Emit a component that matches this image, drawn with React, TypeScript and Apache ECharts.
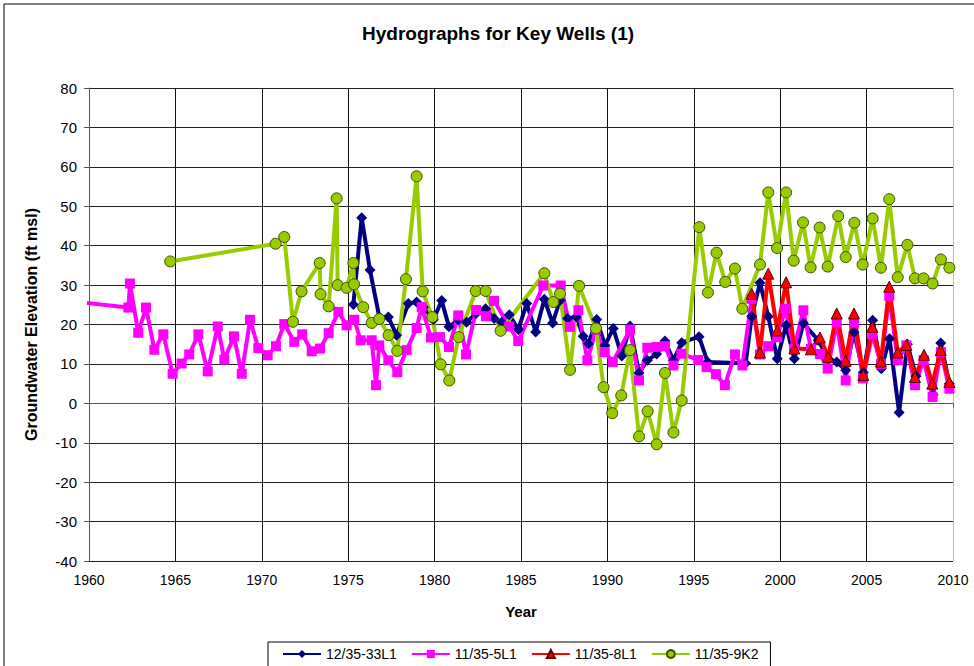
import React, { useEffect, useRef } from "react";
import * as echarts from "echarts";

const seriesNames = ["12/35-33L1", "11/35-5L1", "11/35-8L1", "11/35-9K2"];
const yTicks = { min: -40, max: 80, interval: 10 };
const xTicks = { min: 1960, max: 2010, interval: 5 };

const well33L1: [number, number][] = [
  [1975.3, 25.1], [1975.78, 47.1], [1976.26, 33.8], [1976.8, 21.9], [1977.32, 21.9], [1977.8, 17.3],
  [1978.48, 25.3], [1978.96, 25.7], [1979.35, 24.4], [1979.93, 21.2], [1980.41, 26.1], [1980.83, 19.4],
  [1981.37, 21.2], [1981.85, 20.6], [1982.4, 22.8], [1982.95, 24], [1983.44, 21.5], [1983.88, 20.6],
  [1984.32, 22.5], [1984.84, 18.7], [1985.33, 25.3], [1985.85, 18.1], [1986.35, 26.4], [1986.83, 20.4],
  [1987.26, 26.1], [1987.7, 21.5], [1988.2, 21.9], [1988.6, 17], [1988.9, 15.1], [1989.38, 21.3],
  [1989.86, 14.7], [1990.34, 19], [1990.83, 12], [1991.31, 19.6], [1991.83, 7.7], [1992.31, 10.9],
  [1992.85, 12.5], [1993.33, 15.8], [1993.82, 10.9], [1994.3, 15.4], [1995.3, 16.9], [1995.8, 10.5],
  [1998.0, 10.2], [1998.35, 22], [1998.83, 30.6], [1999.31, 22], [1999.83, 11.3], [2000.34, 19.8],
  [2000.82, 11.3], [2001.34, 20.3], [2002.2, 16], [2002.78, 11.3], [2003.27, 10.5], [2003.79, 8.4],
  [2004.27, 18], [2004.81, 7.8], [2005.35, 21.1], [2005.85, 8.8], [2006.33, 16.4], [2006.88, -2.3],
  [2007.36, 15], [2007.86, 6.9], [2008.32, 11.6], [2008.85, 2.2], [2009.29, 15.3], [2009.79, 5],
];

const well5L1: [number, number][] = [
  [1959.6, 25.6], [1962.28, 24.3], [1962.37, 30.4], [1962.85, 17.9], [1963.3, 24.3], [1963.78, 13.6],
  [1964.3, 17.5], [1964.84, 7.5], [1965.36, 10.1], [1965.8, 12.4], [1966.33, 17.5], [1966.87, 8.1],
  [1967.45, 19.5], [1967.83, 11.1], [1968.39, 17], [1968.84, 7.5], [1969.32, 21.2], [1969.8, 14],
  [1970.34, 12.2], [1970.82, 14.5], [1971.3, 20.1], [1971.88, 15.6], [1972.34, 17.5], [1972.89, 13.2],
  [1973.37, 13.9], [1973.87, 17.8], [1974.43, 23.2], [1974.91, 19.8], [1975.35, 21.2], [1975.72, 16],
  [1976.36, 16], [1976.61, 4.6], [1976.8, 14.7], [1977.32, 10.9], [1977.84, 7.9], [1978.38, 13.5],
  [1978.96, 19.1], [1979.25, 24.4], [1979.79, 16.7], [1980.31, 16.8], [1980.83, 14.3], [1981.37, 22.3],
  [1981.82, 12.4], [1982.4, 23.7], [1982.97, 22.1], [1983.44, 26], [1984.32, 19.5], [1984.84, 15.8],
  [1986.29, 29.9], [1987.3, 29.9], [1987.83, 19.4], [1988.32, 23.6], [1988.84, 10.9], [1989.34, 18.7],
  [1989.84, 13], [1990.31, 10.5], [1991.31, 18.7], [1991.83, 5.8], [1992.31, 14.1], [1992.85, 14.3],
  [1993.33, 14.5], [1993.82, 9.6], [1994.28, 12.6], [1995.26, 11], [1995.74, 9.2], [1996.28, 7.4],
  [1996.8, 4.6], [1997.38, 12.4], [1997.81, 9.6], [1998.35, 26.5], [1998.83, 12.4], [1999.31, 14.5],
  [1999.83, 16.8], [2000.3, 24], [2000.8, 13.8], [2001.34, 23.6], [2001.78, 13.8], [2002.3, 12.5],
  [2002.75, 8.8], [2003.27, 20.5], [2003.79, 5.8], [2004.27, 20.5], [2004.79, 6.3], [2005.33, 17.5],
  [2005.83, 10], [2006.31, 27.3], [2006.8, 10.9], [2007.3, 14.7], [2007.8, 4.6], [2008.3, 11],
  [2008.82, 1.6], [2009.3, 13], [2009.79, 3.7],
];

const well8L1: [number, number][] = [
  [1998.35, 27.8], [1998.83, 12.9], [1999.31, 32.9], [1999.83, 18.5], [2000.34, 30.7], [2000.82, 13.9],
  [2001.78, 13.7], [2002.3, 16.7], [2002.78, 11.8], [2003.27, 22.8], [2003.79, 10.8], [2004.27, 22.8],
  [2004.81, 7.2], [2005.33, 19.4], [2005.83, 10.6], [2006.31, 29.6], [2006.8, 12.9], [2007.3, 14.8],
  [2007.8, 6.7], [2008.32, 12.3], [2008.8, 5], [2009.29, 13.5], [2009.79, 5.4],
];

const well9K2: [number, number][] = [
  [1964.7, 36], [1970.8, 40.5], [1971.3, 42.2], [1971.8, 20.7], [1972.3, 28.4], [1973.35, 35.6],
  [1973.4, 27.7], [1973.87, 24.6], [1974.33, 52], [1974.39, 30], [1974.91, 29.3], [1975.3, 35.6],
  [1975.34, 30.2], [1975.87, 24.4], [1976.36, 20.4], [1976.8, 21.4], [1977.34, 17.3], [1977.84, 13.3],
  [1978.34, 31.5], [1978.96, 57.6], [1979.31, 28.4], [1979.87, 21.9], [1980.35, 9.9], [1980.85, 5.8],
  [1981.39, 16.8], [1982.38, 28.5], [1982.95, 28.5], [1983.82, 18.4], [1986.35, 33], [1986.87, 25.7],
  [1987.26, 27.8], [1987.84, 8.5], [1988.36, 29.8], [1989.34, 19], [1989.78, 4.1], [1990.28, -2.5],
  [1990.8, 2.0], [1991.31, 13.5], [1991.83, -8.4], [1992.33, -2.0], [1992.85, -10.4], [1993.33, 7.7],
  [1993.82, -7.4], [1994.3, 0.7], [1995.32, 44.7], [1995.82, 28.1], [1996.32, 38.2], [1996.82, 30.8],
  [1997.38, 34.2], [1997.81, 24], [1998.83, 35.2], [1999.31, 53.5], [1999.82, 39.4], [2000.34, 53.5],
  [2000.78, 36.2], [2001.32, 45.9], [2001.76, 34.5], [2002.28, 44.6], [2002.75, 34.7], [2003.36, 47.5],
  [2003.79, 37.1], [2004.29, 45.8], [2004.77, 35.2], [2005.35, 46.9], [2005.83, 34.4], [2006.31, 51.8],
  [2006.8, 32], [2007.36, 40.2], [2007.8, 31.7], [2008.3, 31.7], [2008.82, 30.4], [2009.3, 36.5],
  [2009.79, 34.4],
];

const FONT = "'Liberation Sans', Arial, sans-serif";

export default function App() {
  const ref = useRef<HTMLDivElement>(null);
  useEffect(() => {
    document.body.style.margin = "0";
    const chart = echarts.init(ref.current!, null, { renderer: "svg" });
    const xSplitColors = Array.from({ length: 11 }, (_, i) => (i === 10 ? "#bdbdbd" : "#111"));
    chart.setOption({
      animation: false,
      backgroundColor: "#fff",
      textStyle: { fontFamily: FONT },
      grid: { left: 89, right: 21, top: 88, bottom: 105, containLabel: false },
      graphic: [
        {
          type: "rect",
          shape: { x: 4, y: 4, width: 990, height: 700 },
          style: { fill: "none", stroke: "#000", lineWidth: 1 },
          silent: true,
        },
        {
          type: "text",
          x: 498,
          y: 33,
          style: {
            text: "Hydrographs for Key Wells (1)",
            font: `bold 19px ${FONT}`,
            fill: "#000",
            align: "center",
            verticalAlign: "middle",
          },
        },
      ],
      legend: {
        left: 268,
        top: 642,
        padding: [5, 12, 12, 14],
        itemGap: 14,
        itemWidth: 38,
        itemHeight: 10,
        borderColor: "#000",
        borderWidth: 1,
        textStyle: { fontSize: 14, color: "#000", fontFamily: FONT },
        data: seriesNames,
      },
      xAxis: {
        type: "value",
        min: xTicks.min,
        max: xTicks.max,
        interval: xTicks.interval,
        name: "Year",
        nameLocation: "middle",
        nameGap: 43,
        nameTextStyle: { fontWeight: "bold", fontSize: 15, color: "#000", fontFamily: FONT },
        axisLine: { lineStyle: { color: "#555", width: 1 } },
        axisTick: { show: true, length: 4, lineStyle: { color: "#555" } },
        axisLabel: { color: "#000", fontSize: 14, margin: 12, formatter: (v: number) => String(v) },
        splitLine: { show: true, lineStyle: { color: xSplitColors, width: 1 } },
      },
      yAxis: {
        type: "value",
        min: yTicks.min,
        max: yTicks.max,
        interval: yTicks.interval,
        name: "Groundwater Elevation (ft msl)",
        nameLocation: "middle",
        nameGap: 50,
        nameRotate: 90,
        nameTextStyle: { fontWeight: "bold", fontSize: 16, color: "#000", fontFamily: FONT },
        axisLine: { show: true, lineStyle: { color: "#555", width: 1 } },
        axisTick: { show: true, length: 5, lineStyle: { color: "#555" } },
        axisLabel: { color: "#000", fontSize: 15, margin: 12 },
        splitLine: { show: true, lineStyle: { color: "#222", width: 1 } },
      },
      series: [
        {
          name: seriesNames[0],
          type: "line",
          data: well33L1,
          symbol: "diamond",
          symbolSize: 11,
          lineStyle: { color: "#000080", width: 4 },
          itemStyle: { color: "#000080" },
        },
        {
          name: seriesNames[1],
          type: "line",
          data: well5L1,
          symbol: "rect",
          symbolSize: 10,
          lineStyle: { color: "#FF00FF", width: 4 },
          itemStyle: { color: "#FF00FF" },
        },
        {
          name: seriesNames[2],
          type: "line",
          data: well8L1,
          symbol: "triangle",
          symbolSize: 11,
          lineStyle: { color: "#FF0000", width: 4 },
          itemStyle: { color: "#FF0000", borderColor: "#5a0000", borderWidth: 1 },
        },
        {
          name: seriesNames[3],
          type: "line",
          data: well9K2,
          symbol: "circle",
          symbolSize: 11,
          lineStyle: { color: "#99CC00", width: 4 },
          itemStyle: { color: "#99CC00", borderColor: "#3d4d00", borderWidth: 1 },
        },
      ],
    });
    return () => chart.dispose();
  }, []);
  return <div ref={ref} style={{ width: 974, height: 666 }} />;
}
